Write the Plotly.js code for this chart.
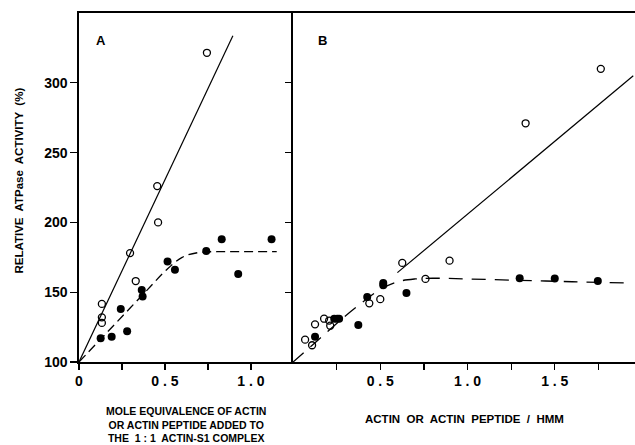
<!DOCTYPE html>
<html>
<head>
<meta charset="utf-8">
<script src="https://cdn.plot.ly/plotly-3.0.1.min.js"></script>
<style>html,body{margin:0;padding:0;background:#fff;}#chart{width:635px;height:445px;}</style>
</head>
<body>
<div id="chart"></div>
<script>
// Panel A data
const aOpenX = [0.133, 0.133, 0.133, 0.297, 0.33, 0.455, 0.46, 0.744];
const aOpenY = [141.6, 132, 128, 178, 158, 226, 200, 321.5];
const aFillX = [0.126, 0.19, 0.243, 0.28, 0.365, 0.37, 0.515, 0.558, 0.74, 0.83, 0.926, 1.12];
const aFillY = [117, 118, 138, 122, 151.6, 147, 172, 166, 179.6, 188, 163, 188];
const aLineX = [0, 0.895];
const aLineY = [100, 333.7];
const aDashX = [0, 0.1, 0.2, 0.3, 0.4, 0.5, 0.6, 0.7, 0.8, 1.15];
const aDashY = [100, 113, 126, 139, 152, 165, 175, 178.5, 179, 179];

// Panel B data
const bOpenX = [0.069, 0.109, 0.126, 0.178, 0.207, 0.213, 0.437, 0.5, 0.626, 0.759, 0.897, 1.333, 1.764];
const bOpenY = [116, 112, 127, 131, 129.7, 126, 142, 145, 171, 159.5, 172.6, 271, 310];
const bFillX = [0.126, 0.236, 0.253, 0.264, 0.374, 0.425, 0.517, 0.517, 0.65, 1.299, 1.5, 1.747];
const bFillY = [118, 131, 131, 131, 126.5, 146.6, 156.6, 155, 149.5, 160, 159.8, 158];
const bLineX = [0.598, 1.95];
const bLineY = [164, 305];
const bDashX = [0, 0.1, 0.2, 0.3, 0.4, 0.5, 0.6, 0.7, 0.8, 1.0, 1.3, 1.6, 1.9];
const bDashY = [100, 111, 122, 133, 143, 152, 157.5, 159.5, 160, 159.5, 158.5, 157.5, 156.6];

// Tick labels
const yTicks = [100, 150, 200, 250, 300];
const yLabels = ['100', '150', '200', '250', '300'];
const aXTicks = [0, 0.25, 0.5, 0.75, 1.0];
const aXLabels = ['0', '', '0 . 5', '', '1 . 0'];
const bXTicks = [0.25, 0.5, 0.75, 1.0, 1.25, 1.5, 1.75];
const bXLabels = ['', '0 . 5', '', '1 . 0', '', '1 . 5', ''];

const bold = arr => arr.map(s => s ? '<b>' + s + '</b>' : '');

const FONT = 'Liberation Sans, Arial, sans-serif';
const openM = {symbol: 'circle-open', size: 7, color: '#000', line: {width: 1.3, color: '#000'}};
const fillM = {symbol: 'circle', size: 8, color: '#000'};

const traces = [
  {x: aLineX, y: aLineY, mode: 'lines', line: {color: '#000', width: 1.2}, xaxis: 'x', yaxis: 'y'},
  {x: aDashX, y: aDashY, mode: 'lines', line: {color: '#000', width: 1.3, dash: '9px,5px', shape: 'spline'}, xaxis: 'x', yaxis: 'y'},
  {x: aOpenX, y: aOpenY, mode: 'markers', marker: openM, xaxis: 'x', yaxis: 'y'},
  {x: aFillX, y: aFillY, mode: 'markers', marker: fillM, xaxis: 'x', yaxis: 'y'},
  {x: bLineX, y: bLineY, mode: 'lines', line: {color: '#000', width: 1.2}, xaxis: 'x2', yaxis: 'y2'},
  {x: bDashX, y: bDashY, mode: 'lines', line: {color: '#000', width: 1.3, dash: '14px,9px', shape: 'spline'}, xaxis: 'x2', yaxis: 'y2'},
  {x: bOpenX, y: bOpenY, mode: 'markers', marker: openM, xaxis: 'x2', yaxis: 'y2'},
  {x: bFillX, y: bFillY, mode: 'markers', marker: fillM, xaxis: 'x2', yaxis: 'y2'}
];

const tickFont = {family: FONT, size: 14, color: '#000'};
const axBase = {showgrid: false, zeroline: false, showline: true, linecolor: '#000', linewidth: 1.6,
  ticks: 'outside', tickcolor: '#000', tickwidth: 1.2, tickfont: tickFont, fixedrange: true};

const layout = {
  width: 635, height: 445,
  margin: {l: 79, r: 0, t: 13, b: 83},
  paper_bgcolor: '#fff', plot_bgcolor: '#fff',
  showlegend: false,
  font: {family: FONT, color: '#000'},
  xaxis: Object.assign({}, axBase, {domain: [0, 0.385], range: [0, 1.245], tickmode: 'array',
    tickvals: aXTicks, ticktext: bold(aXLabels), ticklen: 6, mirror: true, anchor: 'y'}),
  yaxis: Object.assign({}, axBase, {range: [100, 350], tickmode: 'array', tickvals: yTicks,
    ticktext: bold(yLabels), ticklen: 7, anchor: 'x'}),
  xaxis2: Object.assign({}, axBase, {domain: [0.385, 1], range: [0, 1.96], tickmode: 'array',
    tickvals: bXTicks, ticktext: bold(bXLabels), ticklen: 6, mirror: true, anchor: 'y2'}),
  yaxis2: Object.assign({}, axBase, {range: [100, 350], tickmode: 'array', tickvals: [150, 200, 250, 300],
    showticklabels: false, ticklen: 6, anchor: 'x2'}),
  annotations: [
    {text: '<b>RELATIVE  ATPase  ACTIVITY  (%)</b>', xref: 'paper', yref: 'paper', x: -0.108, y: 0.52,
     textangle: -90, showarrow: false, xanchor: 'center', yanchor: 'middle',
     font: {family: FONT, size: 11.5, color: '#000'}},
    {text: '<b>MOLE EQUIVALENCE OF ACTIN<br>OR ACTIN PEPTIDE ADDED TO<br>THE  1 : 1  ACTIN-S1 COMPLEX</b>',
     xref: 'x', yref: 'paper', x: 0.625, y: -0.118, showarrow: false, xanchor: 'center', yanchor: 'top',
     align: 'center', font: {family: FONT, size: 10.5, color: '#000'}},
    {text: '<b>ACTIN  OR  ACTIN  PEPTIDE  /  HMM</b>', xref: 'x2', yref: 'paper', x: 0.98, y: -0.163,
     showarrow: false, xanchor: 'center', yanchor: 'middle',
     font: {family: FONT, size: 11.5, color: '#000'}},
    {text: '<b>A</b>', xref: 'paper', yref: 'paper', x: (101 - 79) / 556, y: (362 - 41) / 349, showarrow: false,
     xanchor: 'center', yanchor: 'middle', font: {family: FONT, size: 13, color: '#000'}},
    {text: '<b>B</b>', xref: 'paper', yref: 'paper', x: (322 - 79) / 556, y: (362 - 41) / 349, showarrow: false,
     xanchor: 'center', yanchor: 'middle', font: {family: FONT, size: 13, color: '#000'}}
  ]
};

Plotly.newPlot('chart', traces, layout, {displayModeBar: false, staticPlot: true});
</script>
</body>
</html>
